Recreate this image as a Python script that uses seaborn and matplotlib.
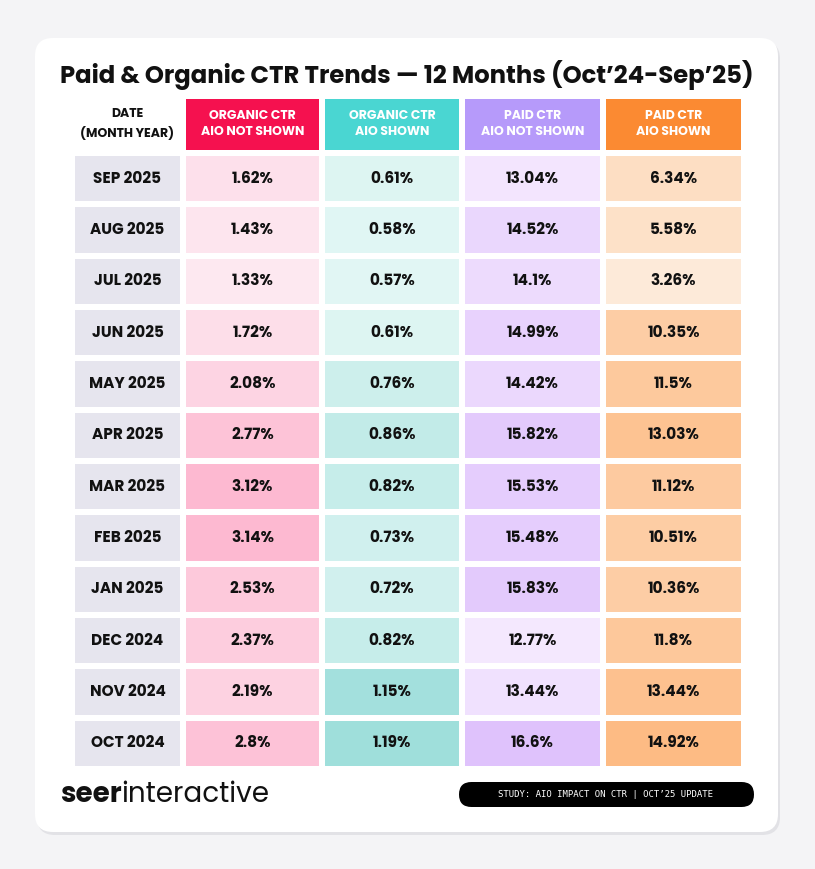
import numpy as np
import pandas as pd
import matplotlib
matplotlib.use("Agg")
import matplotlib.pyplot as plt
import seaborn as sns
from matplotlib.colors import LinearSegmentedColormap
from matplotlib.patches import FancyBboxPatch

months = ["SEP 2025", "AUG 2025", "JUL 2025", "JUN 2025", "MAY 2025", "APR 2025",
          "MAR 2025", "FEB 2025", "JAN 2025", "DEC 2024", "NOV 2024", "OCT 2024"]
organic_not_shown = [1.62, 1.43, 1.33, 1.72, 2.08, 2.77, 3.12, 3.14, 2.53, 2.37, 2.19, 2.8]
organic_shown = [0.61, 0.58, 0.57, 0.61, 0.76, 0.86, 0.82, 0.73, 0.72, 0.82, 1.15, 1.19]
paid_not_shown = [13.04, 14.52, 14.1, 14.99, 14.42, 15.82, 15.53, 15.48, 15.83, 12.77, 13.44, 16.6]
paid_shown = [6.34, 5.58, 3.26, 10.35, 11.5, 13.03, 11.12, 10.51, 10.36, 11.8, 13.44, 14.92]
labels_not_shown = ["1.62%", "1.43%", "1.33%", "1.72%", "2.08%", "2.77%", "3.12%", "3.14%",
                    "2.53%", "2.37%", "2.19%", "2.8%"]
labels_org_shown = ["0.61%", "0.58%", "0.57%", "0.61%", "0.76%", "0.86%", "0.82%", "0.73%",
                    "0.72%", "0.82%", "1.15%", "1.19%"]
labels_paid_not = ["13.04%", "14.52%", "14.1%", "14.99%", "14.42%", "15.82%", "15.53%",
                   "15.48%", "15.83%", "12.77%", "13.44%", "16.6%"]
labels_paid_shown = ["6.34%", "5.58%", "3.26%", "10.35%", "11.5%", "13.03%", "11.12%",
                     "10.51%", "10.36%", "11.8%", "13.44%", "14.92%"]
headers = ["ORGANIC CTR\nAIO NOT SHOWN", "ORGANIC CTR\nAIO SHOWN",
           "PAID CTR\nAIO NOT SHOWN", "PAID CTR\nAIO SHOWN"]

W, H = 815, 869
fig = plt.figure(figsize=(W / 100, H / 100), dpi=100)
fig.patch.set_facecolor("#f4f4f6")
FONT = ["Poppins", "Inter", "DejaVu Sans"]


def px_axes(x0, y0, x1, y1):
    return fig.add_axes([x0 / W, 1 - y1 / H, (x1 - x0) / W, (y1 - y0) / H])


# card background
bg = fig.add_axes([0, 0, 1, 1])
bg.set_xlim(0, W)
bg.set_ylim(H, 0)
bg.axis("off")
bg.add_patch(FancyBboxPatch((37, 41), 743, 794, boxstyle="round,pad=0,rounding_size=18",
                            fc="#e2e2e6", ec="none"))
bg.add_patch(FancyBboxPatch((35, 38), 743, 794, boxstyle="round,pad=0,rounding_size=18",
                            fc="white", ec="none"))
bg.text(407, 75, "Paid & Organic CTR Trends — 12 Months (Oct’24-Sep’25)", ha="center",
        va="center", fontsize=17.5, fontweight="bold", family=FONT, color="#111111")

top, bottom = 153, 769
cols = [
    (183, 322, organic_not_shown, labels_not_shown, "#fde8f0", "#fdb9d1", "#f5114f"),
    (322, 462, organic_shown, labels_org_shown, "#e1f6f4", "#9fdfdb", "#4ad6d2"),
    (462, 603, paid_not_shown, labels_paid_not, "#f4e8fe", "#dfc2fc", "#b69afa"),
    (603, 744, paid_shown, labels_paid_shown, "#fdead9", "#fdbb84", "#fb8a32"),
]
cell_font = dict(fontsize=11, fontweight="bold", color="#111111", family=FONT)

# date column
ax = px_axes(72, top, 183, bottom)
sns.heatmap(pd.DataFrame({"d": np.zeros(len(months))}, index=months), ax=ax,
            cmap=LinearSegmentedColormap.from_list("g", ["#e6e5ee", "#e6e5ee"]),
            cbar=False, linewidths=4, linecolor="white",
            annot=np.array(months)[:, None], fmt="", annot_kws=cell_font)
ax.set_axis_off()
bg.text(127, 124, "DATE\n(MONTH YEAR)", ha="center", va="center", fontsize=9,
        fontweight="bold", family=FONT, color="#111111", linespacing=1.5)

for (x0, x1, vals, labs, lo, hi, head), title in zip(cols, headers):
    ax = px_axes(x0, top, x1, bottom)
    cmap = LinearSegmentedColormap.from_list("c", [lo, hi])
    sns.heatmap(pd.DataFrame({"v": vals}, index=months), ax=ax, cmap=cmap,
                vmin=min(vals), vmax=max(vals), cbar=False, linewidths=4,
                linecolor="white", annot=np.array(labs)[:, None], fmt="",
                annot_kws=cell_font)
    ax.set_axis_off()
    bg.add_patch(plt.Rectangle((x0 + 3, 99), x1 - x0 - 6, 51, fc=head, ec="none"))
    bg.text((x0 + x1) / 2, 124, title, ha="center", va="center", fontsize=9,
            fontweight="bold", family=FONT, color="white", linespacing=1.5)

# footer
t = bg.text(60, 795, "seer", ha="left", va="center", fontsize=20, fontweight="bold",
            family=FONT, color="#111111")
fig.canvas.draw()
bb = t.get_window_extent().transformed(bg.transData.inverted())
bg.text(bb.x1, 795, "interactive", ha="left", va="center", fontsize=20,
        family=FONT, color="#111111")
bg.add_patch(FancyBboxPatch((459, 782), 295, 25, boxstyle="round,pad=0,rounding_size=12.5",
                            fc="black", ec="none"))
bg.text(606, 794.5, "STUDY: AIO IMPACT ON CTR | OCT’25 UPDATE", ha="center", va="center",
        fontsize=6.5, family="DejaVu Sans Mono", color="white")

fig.savefig("out.png", dpi=100, facecolor=fig.get_facecolor())
